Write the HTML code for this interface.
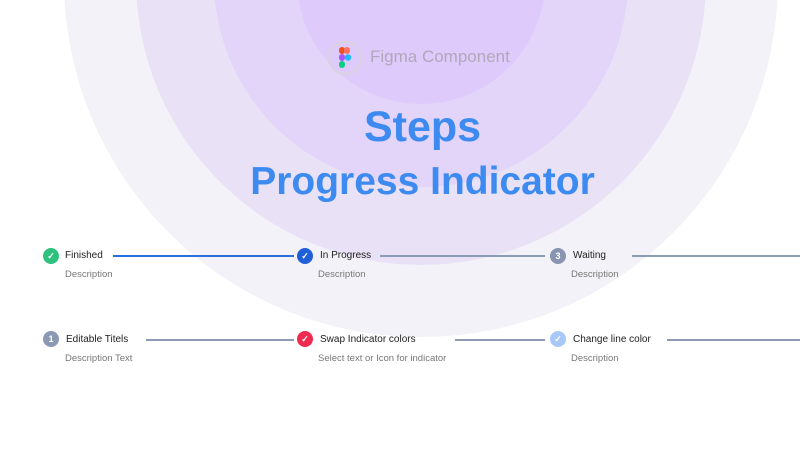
<!DOCTYPE html>
<html><head><style>
body{margin:0;width:800px;height:450px;overflow:hidden;background:#fff;font-family:"Liberation Sans",sans-serif;position:relative}
.c{position:absolute;border-radius:50%}
.t{position:absolute;white-space:nowrap}
.lbl{position:absolute;font-size:10px;color:#222;white-space:nowrap}
.dsc{position:absolute;font-size:9.5px;color:#777;white-space:nowrap}
.ln{position:absolute;height:2px;background:#8e9bb6}
.ic{position:absolute;width:16px;height:16px;border-radius:50%;color:#fff;font-size:9px;text-align:center;line-height:16px;font-weight:bold}
</style></head><body>
<div class="c" style="left:64px;top:-377px;width:714px;height:714px;background:#f3f2f8"></div>
<div class="c" style="left:136px;top:-305px;width:570px;height:570px;background:#e9e2f7"></div>
<div class="c" style="left:214px;top:-227px;width:414px;height:414px;background:#e3d4fa"></div>
<div class="c" style="left:297px;top:-144px;width:248px;height:248px;background:#dfcbfb"></div>
<div class="c" style="left:328px;top:41px;width:34px;height:34px;border:2px solid #d9d3df;box-sizing:border-box"></div>
<svg style="position:absolute;left:337px;top:47px" width="16" height="22" viewBox="0 0 16 22">
<rect x="2" y="0" width="6" height="7" rx="3" fill="#f24e1e"/><rect x="7" y="0" width="6" height="7" rx="3" fill="#ff7262"/>
<rect x="2" y="7" width="6" height="7" rx="3" fill="#a259ff"/><circle cx="11" cy="10.5" r="3.2" fill="#1abcfe"/>
<rect x="2" y="14" width="6" height="7" rx="3" fill="#0acf83"/></svg>
<div class="t" style="left:370px;top:47px;font-size:17px;color:#b2a6bb">Figma Component</div>
<div class="t" style="left:0;width:845px;text-align:center;top:103px;font-size:43px;font-weight:bold;color:#3d8bf0">Steps</div>
<div class="t" style="left:0;width:845px;text-align:center;top:160px;font-size:39px;font-weight:bold;color:#3d8bf0">Progress Indicator</div>

<div class="ic" style="left:43px;top:248px;background:#2ec27e">✓</div>
<div class="lbl" style="left:65px;top:250px">Finished</div>
<div class="dsc" style="left:65px;top:269px">Description</div>
<div class="ln" style="left:113px;width:181px;top:255px;background:#2a6fe0"></div>
<div class="ic" style="left:297px;top:248px;background:#1f5fd8">✓</div>
<div class="lbl" style="left:320px;top:250px">In Progress</div>
<div class="dsc" style="left:318px;top:269px">Description</div>
<div class="ln" style="left:380px;width:165px;top:255px"></div>
<div class="ic" style="left:550px;top:248px;background:#8794b2">3</div>
<div class="lbl" style="left:573px;top:250px">Waiting</div>
<div class="dsc" style="left:571px;top:269px">Description</div>
<div class="ln" style="left:632px;width:168px;top:255px"></div>

<div class="ic" style="left:43px;top:331px;background:#8c99b4">1</div>
<div class="lbl" style="left:66px;top:334px">Editable Titels</div>
<div class="dsc" style="left:65px;top:353px">Description Text</div>
<div class="ln" style="left:146px;width:148px;top:339px"></div>
<div class="ic" style="left:297px;top:331px;background:#ef2b52">✓</div>
<div class="lbl" style="left:320px;top:334px">Swap Indicator colors</div>
<div class="dsc" style="left:318px;top:353px">Select text or Icon for indicator</div>
<div class="ln" style="left:455px;width:90px;top:339px"></div>
<div class="ic" style="left:550px;top:331px;background:#a8c8f8">✓</div>
<div class="lbl" style="left:573px;top:334px">Change line color</div>
<div class="dsc" style="left:571px;top:353px">Description</div>
<div class="ln" style="left:667px;width:133px;top:339px"></div>
</body></html>
